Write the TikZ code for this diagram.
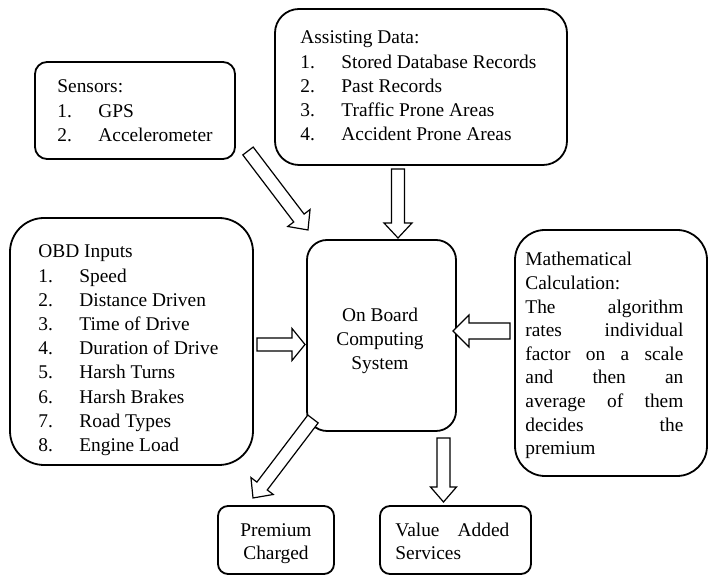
\documentclass[tikz,border=0pt]{standalone}
\usepackage{fontspec}
\setmainfont{Liberation Serif}
\usetikzlibrary{calc}
\newcommand\listrow[2]{\makebox[20.5pt][l]{#1}#2}
\newcommand\hollowarrow[5]{%
  \path let \p1=(#1), \p2=(#2), \n1={veclen(\x2-\x1,\y2-\y1)}, \n2={atan2(\y2-\y1,\x2-\x1)} in
    \pgfextra{\xdef\harlen{\n1}\xdef\harang{\n2}};
  \begin{scope}[shift={(#1)}, rotate=\harang]
    \draw[blkarrow] (0pt,-#3) -- ({\harlen-#5},-#3) -- ({\harlen-#5},-#4) -- ({\harlen},0pt)
      -- ({\harlen-#5},#4) -- ({\harlen-#5},#3) -- (0pt,#3) -- cycle;
  \end{scope}}
\begin{document}
\begin{tikzpicture}[x=0.5pt,y=-0.5pt,
  box/.style={draw, line width=0.9pt, rounded corners=#1, inner sep=0pt},
  box/.default=6pt,
  txt/.style={inner sep=0pt, anchor=base west, font=\fontsize{9.7}{12.1}\selectfont},
  blkarrow/.style={draw, line width=0.6pt, fill=white, line join=miter}]
\useasboundingbox (0,0) rectangle (709,576);

% boxes
\node[box=6pt, minimum width=100pt, minimum height=48.5pt] (sens) at (135,110.5) {};
\node[box=12pt, minimum width=146pt, minimum height=78pt] (assist) at (421,87) {};
\node[box=17pt, minimum width=121.5pt, minimum height=123.5pt] (obd) at (131.5,341.5) {};
\node[box=10pt, minimum width=74.5pt, minimum height=95.5pt] (obc) at (381.5,335.5) {};
\node[box=15pt, minimum width=96pt, minimum height=123pt] (math) at (611,353) {};
\node[box=5pt, minimum width=58pt, minimum height=34pt] (prem) at (276,540) {};
\node[box=5pt, minimum width=75.5pt, minimum height=34pt] (vas) at (455.5,540) {};

% texts
\node[txt] (senst) at (57,93) {\begin{tabular}[t]{@{}l@{}}Sensors:\\
  \listrow{1.}{GPS}\\ \listrow{2.}{Accelerometer}\end{tabular}};
\node[txt] (assistt) at (300,44) {\begin{tabular}[t]{@{}l@{}}Assisting Data:\\
  \listrow{1.}{Stored Database Records}\\ \listrow{2.}{Past Records}\\
  \listrow{3.}{Traffic Prone Areas}\\ \listrow{4.}{Accident Prone Areas}\end{tabular}};
\node[txt] (obdt) at (38,258) {\begin{tabular}[t]{@{}l@{}}OBD Inputs\\
  \listrow{1.}{Speed}\\ \listrow{2.}{Distance Driven}\\ \listrow{3.}{Time of Drive}\\
  \listrow{4.}{Duration of Drive}\\ \listrow{5.}{Harsh Turns}\\ \listrow{6.}{Harsh Brakes}\\
  \listrow{7.}{Road Types}\\ \listrow{8.}{Engine Load}\end{tabular}};
\node[txt, font=\fontsize{9.7}{11.8}\selectfont] (matht) at (525,266) {\begin{tabular}[t]{@{}l@{}}Mathematical\\
  Calculation:\\ \makebox[79pt][s]{The algorithm}\\ \makebox[79pt][s]{rates individual}\\
  \makebox[79pt][s]{factor on a scale}\\ \makebox[79pt][s]{and then an}\\
  \makebox[79pt][s]{average of them}\\ \makebox[79pt][s]{decides the}\\ premium\end{tabular}};
\node[txt, anchor=base, font=\fontsize{9.7}{12}\selectfont] (obct) at (380,322) {\begin{tabular}[t]{@{}c@{}}On Board\\ Computing\\ System\end{tabular}};
\node[txt, anchor=base, font=\fontsize{9.7}{11.5}\selectfont] (premt) at (276,537) {\begin{tabular}[t]{@{}c@{}}Premium\\ Charged\end{tabular}};
\node[txt, font=\fontsize{9.7}{11.5}\selectfont] (vast) at (395,537) {\begin{tabular}[t]{@{}l@{}}\makebox[57pt][s]{Value Added}\\ Services\end{tabular}};

% arrow end points
\coordinate (a1s) at (248,151);   \coordinate (a1e) at (308,230);
\coordinate (a2s) at (398,169);   \coordinate (a2e) at (398,238);
\coordinate (a3s) at (257,344.5); \coordinate (a3e) at (305,344.5);
\coordinate (a4s) at (510,331);   \coordinate (a4e) at (453,331);
\coordinate (a5s) at (313,419);   \coordinate (a5e) at (253,498);
\coordinate (a6s) at (443.5,438); \coordinate (a6e) at (443.5,502);

\hollowarrow{a1s}{a1e}{3.25pt}{7pt}{7.5pt}
\hollowarrow{a2s}{a2e}{3.25pt}{7pt}{7.5pt}
\hollowarrow{a3s}{a3e}{3.25pt}{8pt}{6.5pt}
\hollowarrow{a4s}{a4e}{4pt}{8pt}{8pt}
\hollowarrow{a5s}{a5e}{3.25pt}{7pt}{7.5pt}
\hollowarrow{a6s}{a6e}{3.25pt}{6.5pt}{7.5pt}
\end{tikzpicture}
\end{document}
